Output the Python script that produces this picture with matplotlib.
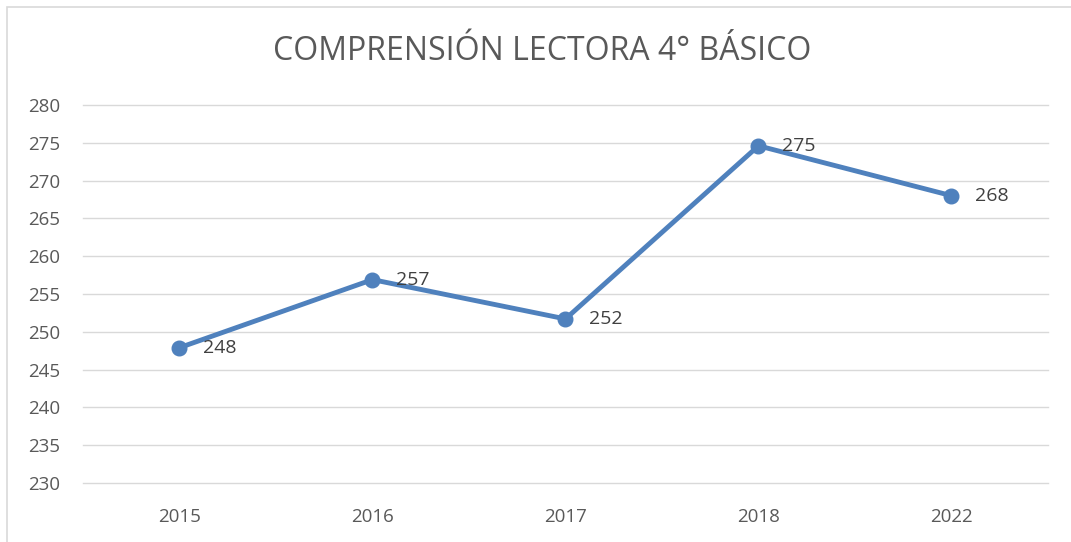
import matplotlib.pyplot as plt
from matplotlib.patches import Rectangle

# Comprensión lectora 4° básico, puntajes por año
anios = ['2015', '2016', '2017', '2018', '2022']
puntajes = [247.9, 256.9, 251.7, 274.6, 268.0]

azul = '#4f81bd'
gris_texto = '#595959'

plt.rcParams['font.family'] = ['Open Sans', 'DejaVu Sans']

fig = plt.figure(figsize=(10.71, 5.42), dpi=100)
ax = fig.add_axes([0.0775, 0.1089, 0.901, 0.6974])

# borde del gráfico (sin lado derecho visible)
fig.patches.append(Rectangle((7 / 1071, -0.05), 1.05, 1.05 - 6.5 / 542,
                             transform=fig.transFigure, fill=False,
                             edgecolor='#d9d9d9', linewidth=1.2))

x = range(len(anios))
ax.plot(x, puntajes, color=azul, linewidth=3.5, marker='o', markersize=10.5,
        solid_capstyle='round', zorder=3)

for i, v in zip(x, puntajes):
    ax.annotate(f'{v:.0f}', (i, v), xytext=(17, 0), textcoords='offset points',
                va='center', ha='left', fontsize=14, color='#404040')

ax.set_xlim(-0.5, len(anios) - 0.5)
ax.set_ylim(230, 280)
ax.set_yticks(range(230, 281, 5))
ax.set_xticks(list(x))
ax.set_xticklabels(anios)
ax.grid(axis='y', color='#d9d9d9', linewidth=1)
for gl in ax.get_ygridlines():
    gl.set_clip_on(False)
ax.set_axisbelow(True)
for s in ax.spines.values():
    s.set_visible(False)
ax.tick_params(length=0, labelsize=13.5, colors=gris_texto)
ax.tick_params(axis='y', pad=16.5)
ax.tick_params(axis='x', pad=18)

fig.text(0.506, 0.905, 'COMPRENSIÓN LECTORA 4° BÁSICO', ha='center', va='center',
         fontsize=23, color=gris_texto)

plt.savefig('out.png', dpi=100)
plt.close()
